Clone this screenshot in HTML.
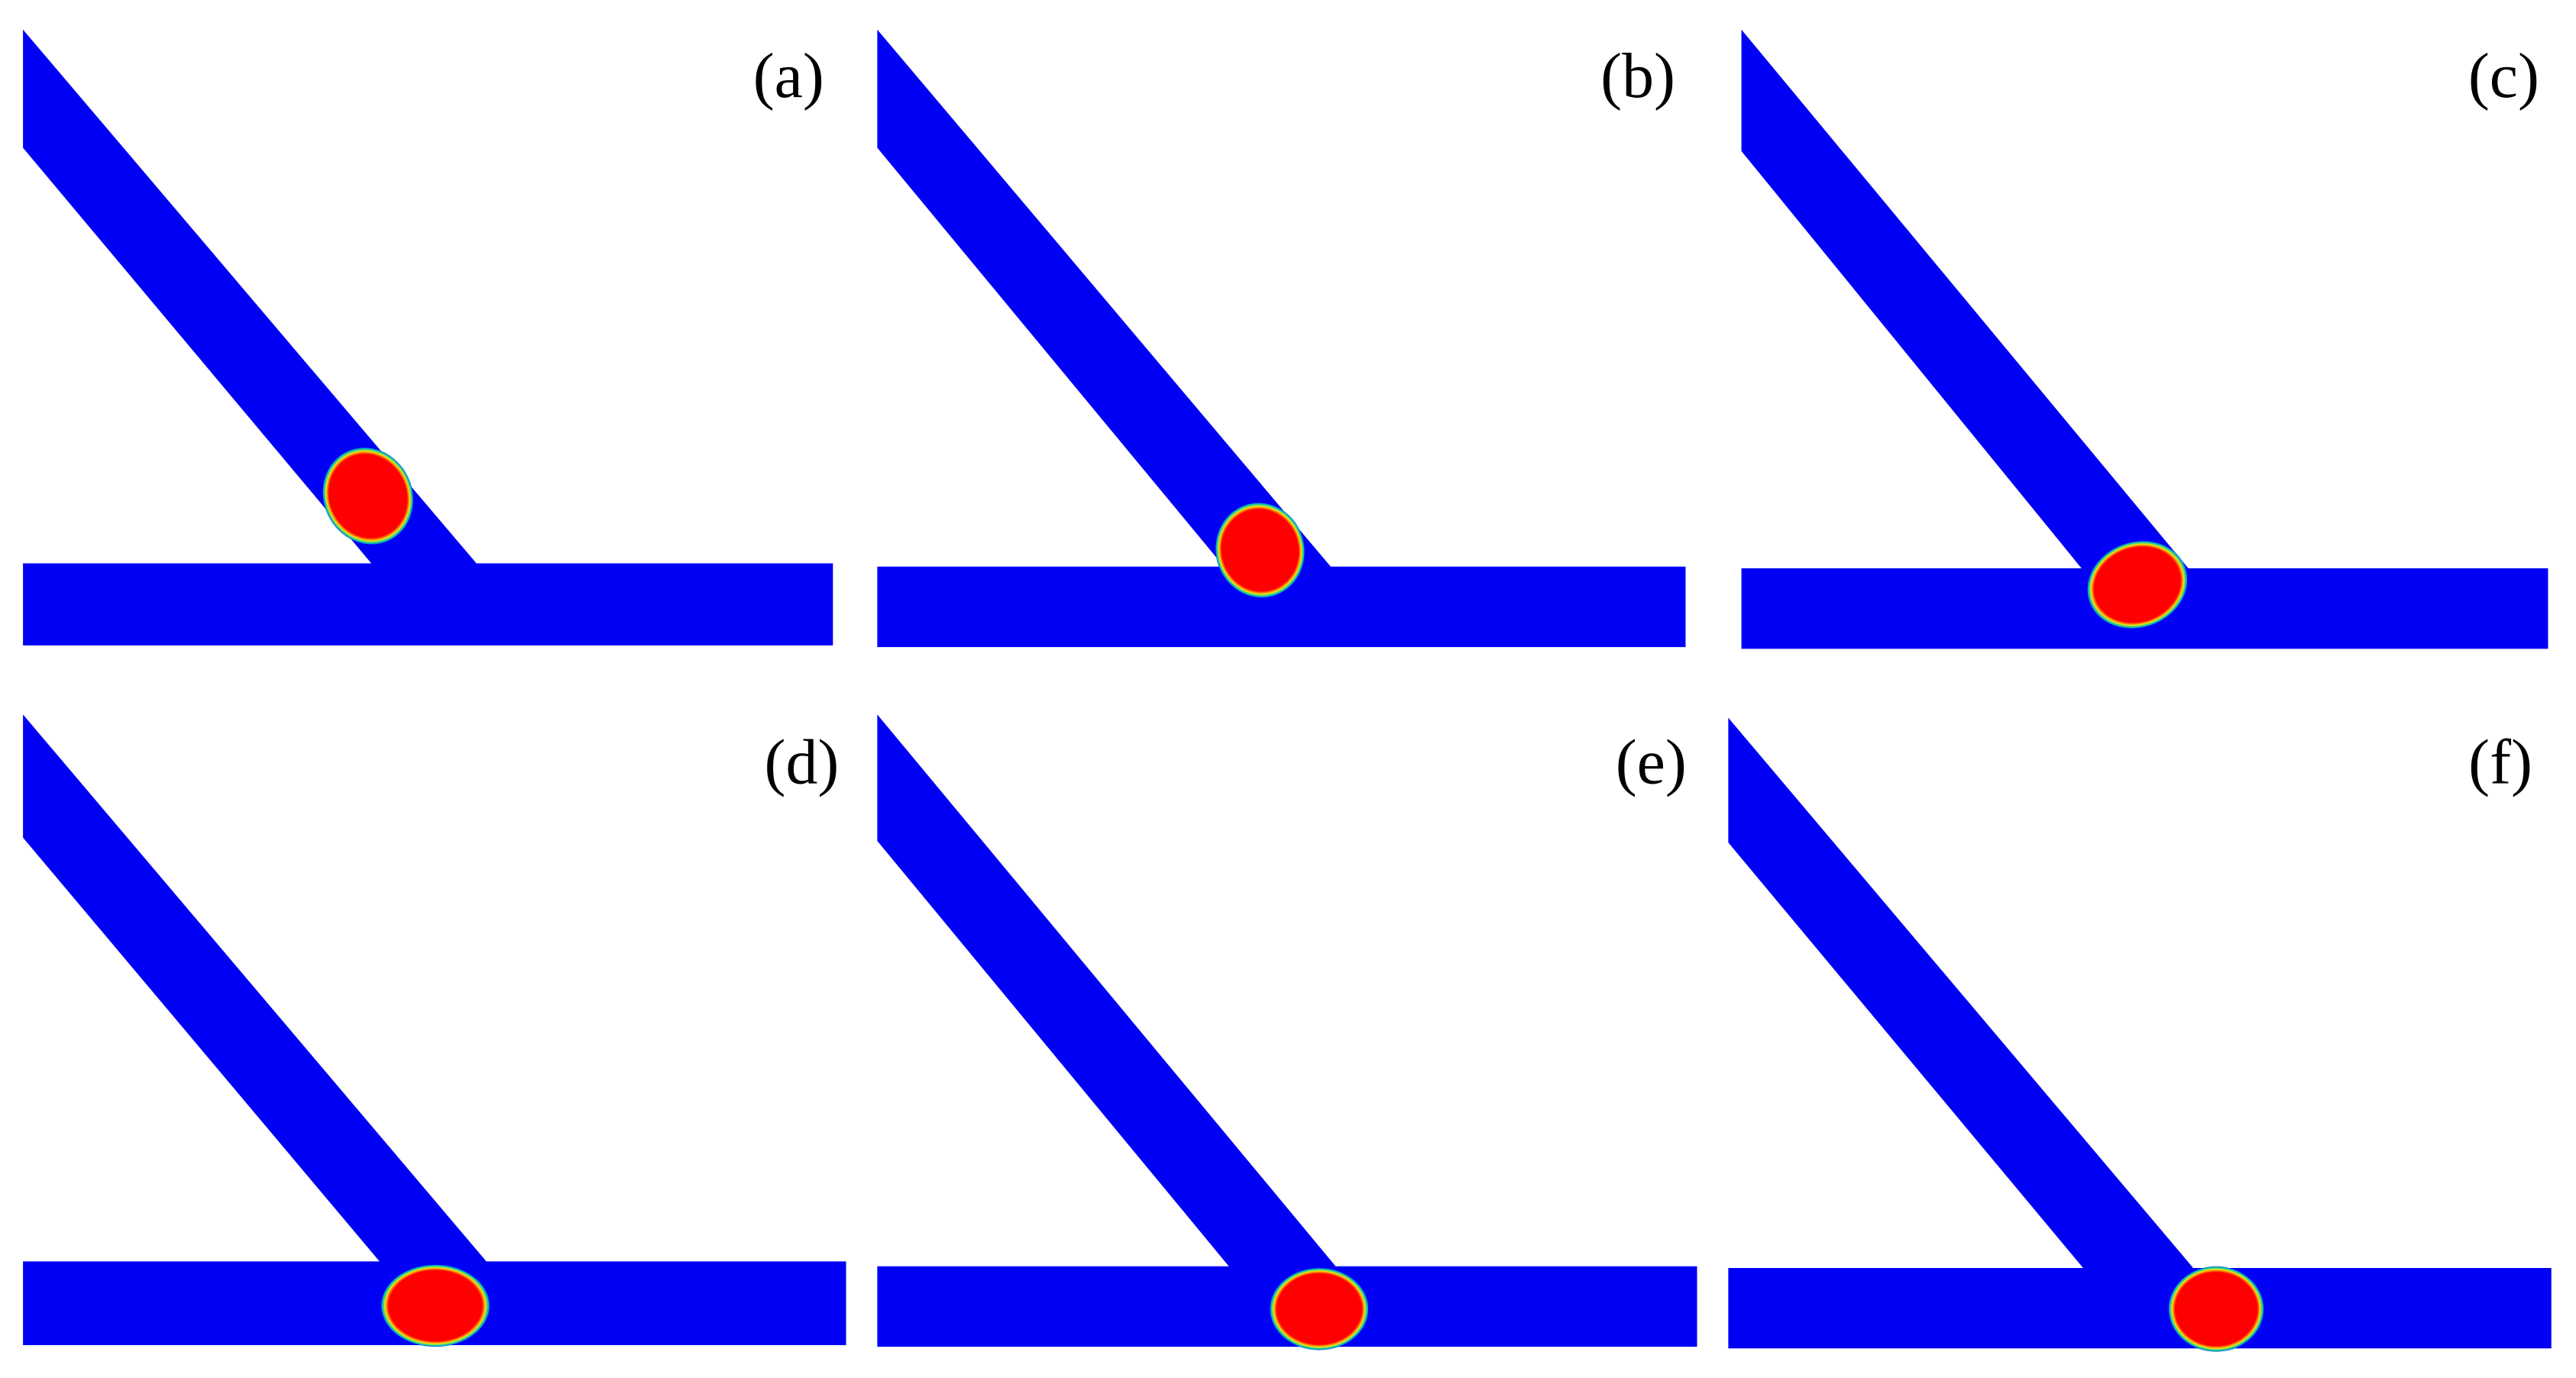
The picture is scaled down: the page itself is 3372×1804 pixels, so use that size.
<!DOCTYPE html>
<html><head><meta charset="utf-8"><style>
html,body{margin:0;padding:0;background:#fff;}
svg{display:block;}
</style></head><body>
<svg width="3372" height="1804" viewBox="0 0 1568 839" preserveAspectRatio="none" xmlns="http://www.w3.org/2000/svg">
<defs>
<radialGradient id="dg" cx="50%" cy="50%" r="50%">
<stop offset="0" stop-color="#ff0000"/>
<stop offset="0.86" stop-color="#ff0000"/>
<stop offset="0.90" stop-color="#ff8800"/>
<stop offset="0.93" stop-color="#e8e820"/>
<stop offset="0.96" stop-color="#30d080"/>
<stop offset="0.99" stop-color="#00a0d0"/>
<stop offset="1" stop-color="#0010f0"/>
</radialGradient>
</defs>
<g fill="#0000f5">
<polygon points="14,18 290,343 507,343 507,393 14,393 14,343 226,343 14,90"/>
<polygon points="534,18 810,345 1026,345 1026,394 534,394 534,345 745,345 534,90"/>
<polygon points="1060,18 1332,346 1551,346 1551,395 1060,395 1060,346 1267,346 1060,92"/>
<polygon points="14,435 296,768 515,768 515,819 14,819 14,768 231,768 14,510"/>
<polygon points="534,435 813,771 1033,771 1033,820 534,820 534,771 748,771 534,512"/>
<polygon points="1052,437 1335,772 1553,772 1553,821 1052,821 1052,772 1268,772 1052,513"/>
</g>
<g fill="url(#dg)">
<ellipse cx="224" cy="302" rx="27" ry="30" transform="rotate(-25 224 302)"/>
<ellipse cx="767" cy="335" rx="27" ry="29" transform="rotate(-15 767 335)"/>
<ellipse cx="1301" cy="356" rx="31" ry="26" transform="rotate(-20 1301 356)"/>
<ellipse cx="265" cy="795" rx="33" ry="25"/>
<ellipse cx="803" cy="797" rx="30" ry="25"/>
<ellipse cx="1349" cy="797" rx="29" ry="26"/>
</g>
<g font-family="Liberation Serif, serif" font-size="39" fill="#000" text-anchor="middle">
<text x="480" y="59">(a)</text>
<text x="997" y="59">(b)</text>
<text x="1524" y="59">(c)</text>
<text x="488" y="477">(d)</text>
<text x="1005" y="477">(e)</text>
<text x="1522" y="477">(f)</text>
</g>
</svg>
</body></html>
